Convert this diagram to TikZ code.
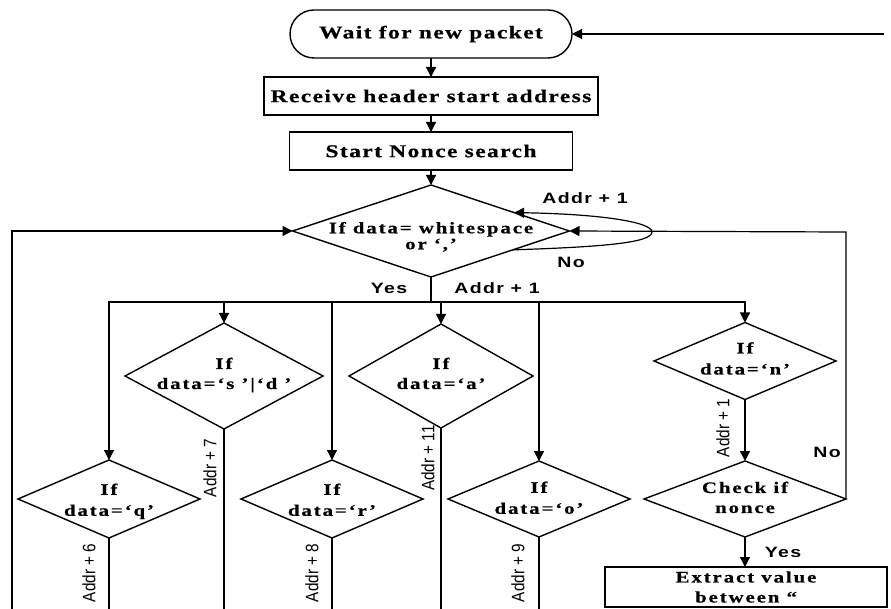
\documentclass[tikz,border=0pt]{standalone}
\usepackage{fontspec}
\usetikzlibrary{shapes.geometric,shapes.misc,arrows.meta,calc}
\newfontfamily\boxfam[FakeStretch=1.3,LetterSpace=8,FakeBold=0.6]{Liberation Serif}
\newfontfamily\dfam[FakeStretch=1.3,LetterSpace=12,FakeBold=0.6]{Liberation Serif}
\newfontfamily\lblfam[FakeStretch=1.3,LetterSpace=9]{Liberation Sans}
\newfontfamily\rotfam[FakeStretch=0.85]{Liberation Sans}
\newcommand\dtxt[4]{\smash{\raisebox{#1}{\makebox[0pt]{\begin{tabular}{@{}c@{}}#3\\[#2]#4\end{tabular}}}}}
\tikzset{
 shp/.style={draw, line width=1.4pt, inner sep=0pt, outer sep=0pt},
 term/.style={shp, rounded rectangle, minimum height=48pt, font=\boxfam\bfseries\fontsize{18}{21}\selectfont},
 proc/.style={shp, rectangle, minimum height=38pt, font=\boxfam\bfseries\fontsize{18}{21}\selectfont},
 dec/.style={shp, diamond, font=\dfam\bfseries\fontsize{16}{18}\selectfont},
 arr/.style={line width=1.2pt, -{Triangle[length=10pt,width=10pt]}},
 ln/.style={line width=1.2pt},
 lbl/.style={font=\lblfam\bfseries\fontsize{15}{17}\selectfont, inner sep=0pt},
 rlbl/.style={font=\rotfam\fontsize{18}{20}\selectfont, rotate=90, inner sep=0pt},
}
\begin{document}
\begin{tikzpicture}[x=1pt,y=-1pt]
\fill[white] (0,0) rectangle (891,609);
\useasboundingbox (0,0) rectangle (891,609);
% nodes
\node[term, minimum width=282pt] (wait) at (431,34) {Wait for new packet};
\node[proc, minimum width=334pt] (recv) at (431,96) {Receive header start address};
\node[proc, minimum width=283pt] (start) at (431,151) {Start Nonce search};
\node[dec, minimum width=277pt, minimum height=92pt] (d0) at (431,231) {\dtxt{-11pt}{-2pt}{If data= whitespace}{or ‘,’}};
\node[dec, minimum width=198pt, minimum height=106pt] (sd) at (224,376) {\dtxt{-3.7pt}{2pt}{If}{data=‘s ’|‘d ’}};
\node[dec, minimum width=184pt, minimum height=104pt] (a) at (441,376) {\dtxt{-3.7pt}{2pt}{If}{data=‘a’}};
\node[dec, minimum width=182pt, minimum height=77pt] (n) at (745,361) {\dtxt{-3.7pt}{3pt}{If}{data=‘n’}};
\node[dec, minimum width=202pt, minimum height=76pt] (chk) at (745,499) {\dtxt{-4.7pt}{2pt}{Check if}{nonce}};
\node[dec, minimum width=182pt, minimum height=78pt] (q) at (109,499) {\dtxt{-7pt}{3pt}{If}{data=‘q’}};
\node[dec, minimum width=182pt, minimum height=78pt] (r) at (332,499) {\dtxt{-7pt}{3pt}{If}{data=‘r’}};
\node[dec, minimum width=182pt, minimum height=76pt] (o) at (539,499) {\dtxt{-5pt}{3pt}{If}{data=‘o’}};
\node[proc, minimum width=282pt, minimum height=40pt, align=center, font=\dfam\bfseries\fontsize{16}{20}\selectfont] (ext) at (746,587) {Extract value\\between “};
% coordinates
\coordinate (topR) at (884,34);
\coordinate (lb) at (12,609);
\coordinate (rc) at (846,232);
\coordinate (lp) at (652,232);
\coordinate (bus) at (431,302);
\coordinate (bot) at (0,609);
% main column
\draw[arr] (wait) -- (recv);
\draw[arr] (recv) -- (start);
\draw[arr] (start) -- (d0);
\draw[arr] (topR) -- (wait.east);
\draw[arr] (lb) |- (d0.west);
\draw[arr] (chk.east) -| (rc) -- (d0.east);
\draw[arr] ($(d0.south)!0.59!(d0.east)$) .. controls (600,247) and (652,243) .. (lp) .. controls (652,222) and (600,214) .. ($(d0.north)!0.6!(d0.east)$);
% bus
\draw[ln] (d0.south) -- (bus);
\draw[arr] (bus) -| (q.north);
\draw[arr] (bus) -| (n.north);
\draw[arr] (sd.north |- bus) -- (sd.north);
\draw[arr] (r.north |- bus) -- (r.north);
\draw[arr] (a.north |- bus) -- (a.north);
\draw[arr] (o.north |- bus) -- (o.north);
\draw[arr] (n.south) -- (chk.north);
\draw[arr] (chk.south) -- (chk.south |- ext.north);
% lines leaving the picture
\draw[ln] (q.south) -- (q.south |- bot);
\draw[ln] (sd.south) -- (sd.south |- bot);
\draw[ln] (r.south) -- (r.south |- bot);
\draw[ln] (a.south) -- (a.south |- bot);
\draw[ln] (o.south) -- (o.south |- bot);
% labels
\node[lbl] (l1) at (585,198) {Addr + 1};
\node[lbl] (l2) at (571,262) {No};
\node[lbl] (l3) at (389,288) {Yes};
\node[lbl] (l4) at (497,288) {Addr + 1};
\node[lbl] (l5) at (827,452) {No};
\node[lbl] (l6) at (783,552) {Yes};
\node[rlbl] (r6) at (89,573) {Addr + 6};
\node[rlbl] (r7) at (210,468) {Addr + 7};
\node[rlbl] (r8) at (312,573) {Addr + 8};
\node[rlbl] (r11) at (428,458) {Addr + 11};
\node[rlbl] (r9) at (518,573) {Addr + 9};
\node[rlbl] (r1) at (723,428) {Addr + 1};
\end{tikzpicture}
\end{document}
